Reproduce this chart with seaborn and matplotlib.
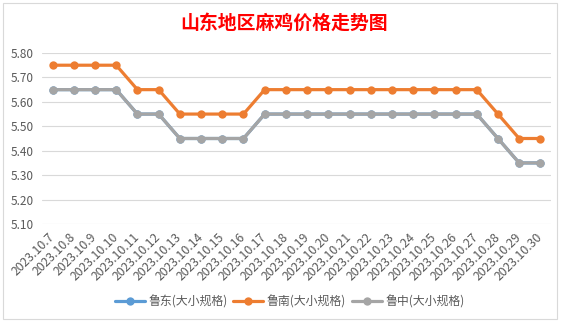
import matplotlib
matplotlib.use("Agg")
import matplotlib.pyplot as plt
import seaborn as sns
import pandas as pd
from matplotlib.patches import Rectangle
from matplotlib.transforms import ScaledTranslation

dates = ["2023.10.7", "2023.10.8", "2023.10.9", "2023.10.10", "2023.10.11", "2023.10.12",
         "2023.10.13", "2023.10.14", "2023.10.15", "2023.10.16", "2023.10.17", "2023.10.18",
         "2023.10.19", "2023.10.20", "2023.10.21", "2023.10.22", "2023.10.23", "2023.10.24",
         "2023.10.25", "2023.10.26", "2023.10.27", "2023.10.28", "2023.10.29", "2023.10.30"]
ludong = [5.65, 5.65, 5.65, 5.65, 5.55, 5.55, 5.45, 5.45, 5.45, 5.45, 5.55, 5.55,
          5.55, 5.55, 5.55, 5.55, 5.55, 5.55, 5.55, 5.55, 5.55, 5.45, 5.35, 5.35]
lunan = [5.75, 5.75, 5.75, 5.75, 5.65, 5.65, 5.55, 5.55, 5.55, 5.55, 5.65, 5.65,
         5.65, 5.65, 5.65, 5.65, 5.65, 5.65, 5.65, 5.65, 5.65, 5.55, 5.45, 5.45]
luzhong = [5.65, 5.65, 5.65, 5.65, 5.55, 5.55, 5.45, 5.45, 5.45, 5.45, 5.55, 5.55,
           5.55, 5.55, 5.55, 5.55, 5.55, 5.55, 5.55, 5.55, 5.55, 5.45, 5.35, 5.35]
series_names = ["鲁东(大小规格)", "鲁南(大小规格)", "鲁中(大小规格)"]
colors = ["#5B9BD5", "#ED7D31", "#A5A5A5"]
yticks = [5.10, 5.20, 5.30, 5.40, 5.50, 5.60, 5.70, 5.80]

sns.set_theme(style="white")
plt.rcParams['font.family'] = ['Noto Sans CJK SC', 'DejaVu Sans']

rows = []
for name, vals in zip(series_names, [ludong, lunan, luzhong]):
    for i, v in enumerate(vals):
        rows.append({"idx": i, "price": v, "series": name})
df = pd.DataFrame(rows)

fig = plt.figure(figsize=(5.68, 3.25), dpi=100)
fig.patch.set_facecolor("white")
ax = fig.add_axes([42/568, 1-224/325, (551-42)/568, (224-53)/325])

sns.lineplot(data=df, x="idx", y="price", hue="series", hue_order=series_names,
             palette=colors, marker="o", markersize=6, markeredgewidth=0,
             linewidth=2.3, ax=ax, legend=False)

ax.set_xlim(-0.5, len(dates) - 0.5)
ax.set_ylim(5.10, 5.80)
ax.set_yticks(yticks)
ax.set_yticklabels([f"{y:.2f}" for y in yticks], fontsize=8.5, color="#595959")
ax.set_xticks(range(len(dates)))
ax.set_xticklabels(dates, rotation=45, ha="right", va="center", rotation_mode="anchor",
                   fontsize=8.8, color="#595959")
shift = ScaledTranslation(4/100, 0, fig.dpi_scale_trans)
for lab in ax.get_xticklabels():
    lab.set_transform(lab.get_transform() + shift)
ax.tick_params(axis="x", length=0, pad=8)
ax.tick_params(axis="y", length=0, pad=6)
ax.yaxis.grid(True, color="#D9D9D9", linewidth=0.8)
ax.set_axisbelow(True)
for s in ax.spines.values():
    s.set_visible(False)
ax.set_xlabel("")
ax.set_ylabel("")

fig.text(0.5, 1-23/325, "山东地区麻鸡价格走势图", ha="center", va="center",
         fontsize=13.6, fontweight="bold", color="#FF0000")

handles = [plt.Line2D([], [], color=c, marker="o", markersize=6, markeredgewidth=0,
                      linewidth=2.3) for c in colors]
fig.legend(handles, series_names, loc="center", bbox_to_anchor=(0.51, 1-302/325),
           ncol=3, frameon=False, fontsize=8.6, labelcolor="#595959",
           handlelength=2.5, columnspacing=0.5, handletextpad=0.3)

fig.add_artist(Rectangle((3/568, 1-319/325), (557-3)/568, (319-3)/325,
                         transform=fig.transFigure, fill=False,
                         edgecolor="#D9D9D9", linewidth=0.8))

fig.savefig("out.png", dpi=100)
